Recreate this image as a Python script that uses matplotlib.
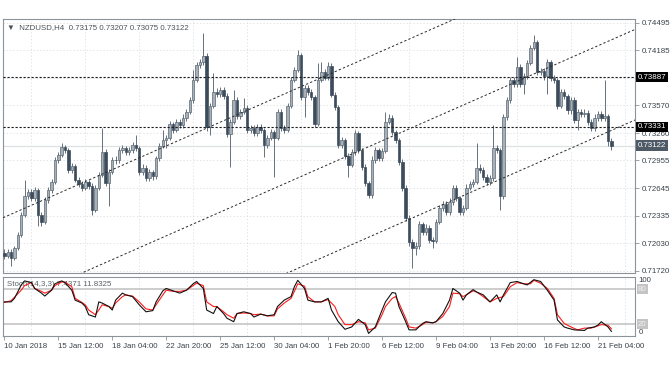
import numpy as np
import matplotlib
matplotlib.use('Agg')
import matplotlib.pyplot as plt
from matplotlib.transforms import blended_transform_factory

plt.rcParams['font.family'] = ['Liberation Sans', 'DejaVu Sans']

# NZDUSD H4, bar 0 = 10 Jan 20:00
opens = [0.71920,
 0.71887, 0.71932, 0.71865, 0.71976, 0.72122, 0.72345, 0.72558, 0.72602, 0.72535, 0.72625,
 0.72345, 0.72267, 0.72513, 0.72625, 0.72714, 0.72960, 0.73016, 0.73106, 0.73072, 0.72848,
 0.72893, 0.72737, 0.72692, 0.72647, 0.72714, 0.72670, 0.72401, 0.72647, 0.72793, 0.73050,
 0.72703, 0.72826, 0.72960, 0.72955, 0.73072, 0.73094, 0.73050, 0.73072, 0.73128, 0.73094,
 0.72826, 0.72871, 0.72759, 0.72826, 0.72781, 0.72983, 0.73117, 0.73184, 0.73206, 0.73363,
 0.73296, 0.73385, 0.73352, 0.73430, 0.73497, 0.73631, 0.73855, 0.74022, 0.74056, 0.74123,
 0.73329, 0.73564, 0.73720, 0.73698, 0.73743, 0.73676, 0.73251, 0.73385, 0.73631, 0.73452,
 0.73497, 0.73542, 0.73296, 0.73318, 0.73262, 0.73329, 0.73296, 0.73128, 0.73206, 0.73273,
 0.73206, 0.73497, 0.73318, 0.73296, 0.73564, 0.73855, 0.73966, 0.74134, 0.73665, 0.73765,
 0.73720, 0.73665, 0.73363, 0.73855, 0.73944, 0.73877, 0.74011, 0.73687, 0.73553, 0.73128,
 0.73184, 0.73005, 0.72904, 0.73050, 0.73262, 0.73072, 0.72882, 0.72703, 0.72569, 0.72960,
 0.73072, 0.72983, 0.73065, 0.73385, 0.73430, 0.73273, 0.73184, 0.72938, 0.72647, 0.72312,
 0.72043, 0.71976, 0.71999, 0.72245, 0.72155, 0.72200, 0.72066, 0.72055, 0.72267, 0.72424,
 0.72468, 0.72379, 0.72491, 0.72647, 0.72535, 0.72379, 0.72424, 0.72650, 0.72692, 0.72714,
 0.72871, 0.72848, 0.72770, 0.72714, 0.72759, 0.73094, 0.73072, 0.72558, 0.73441, 0.73631,
 0.73855, 0.73810, 0.74000, 0.73810, 0.73899, 0.74045, 0.74212, 0.74279, 0.73944, 0.73950,
 0.73899, 0.74056, 0.73877, 0.73855, 0.73564, 0.73720, 0.73676, 0.73519, 0.73631, 0.73407,
 0.73497, 0.73475, 0.73490, 0.73385, 0.73318, 0.73430, 0.73475, 0.73430, 0.73452, 0.73175]

closes = [
 0.71887, 0.71932, 0.71865, 0.71976, 0.72122, 0.72345, 0.72558, 0.72602, 0.72535, 0.72625,
 0.72345, 0.72267, 0.72513, 0.72625, 0.72714, 0.72960, 0.73016, 0.73106, 0.73072, 0.72848,
 0.72893, 0.72737, 0.72692, 0.72647, 0.72714, 0.72670, 0.72401, 0.72647, 0.72793, 0.73050,
 0.72703, 0.72826, 0.72960, 0.72955, 0.73072, 0.73094, 0.73050, 0.73072, 0.73128, 0.73094,
 0.72826, 0.72871, 0.72759, 0.72826, 0.72781, 0.72983, 0.73117, 0.73184, 0.73206, 0.73363,
 0.73296, 0.73385, 0.73352, 0.73430, 0.73497, 0.73631, 0.73855, 0.74022, 0.74056, 0.74123,
 0.73329, 0.73564, 0.73720, 0.73698, 0.73743, 0.73676, 0.73251, 0.73385, 0.73631, 0.73452,
 0.73497, 0.73542, 0.73296, 0.73318, 0.73262, 0.73329, 0.73296, 0.73128, 0.73206, 0.73273,
 0.73206, 0.73497, 0.73318, 0.73296, 0.73564, 0.73855, 0.73966, 0.74134, 0.73665, 0.73765,
 0.73720, 0.73665, 0.73363, 0.73855, 0.73944, 0.73877, 0.74011, 0.73687, 0.73553, 0.73128,
 0.73184, 0.73005, 0.72904, 0.73050, 0.73262, 0.73072, 0.72882, 0.72703, 0.72569, 0.72960,
 0.73072, 0.72983, 0.73065, 0.73385, 0.73430, 0.73273, 0.73184, 0.72938, 0.72647, 0.72312,
 0.72043, 0.71976, 0.71999, 0.72245, 0.72155, 0.72200, 0.72066, 0.72055, 0.72267, 0.72424,
 0.72468, 0.72379, 0.72491, 0.72647, 0.72535, 0.72379, 0.72424, 0.72650, 0.72692, 0.72714,
 0.72871, 0.72848, 0.72770, 0.72714, 0.72759, 0.73094, 0.73072, 0.72558, 0.73441, 0.73631,
 0.73855, 0.73810, 0.74000, 0.73810, 0.73899, 0.74045, 0.74212, 0.74279, 0.73944, 0.73950,
 0.73899, 0.74056, 0.73877, 0.73855, 0.73564, 0.73720, 0.73676, 0.73519, 0.73631, 0.73407,
 0.73497, 0.73475, 0.73490, 0.73385, 0.73318, 0.73430, 0.73475, 0.73430, 0.73452, 0.73175,
 0.73122]

highs = [
 0.71960, 0.71965, 0.71960, 0.72000, 0.72150, 0.72380, 0.72737, 0.72640, 0.72640, 0.72660,
 0.72650, 0.72380, 0.72550, 0.72660, 0.72750, 0.72990, 0.73050, 0.73150, 0.73130, 0.73100,
 0.72930, 0.72920, 0.72770, 0.72730, 0.72750, 0.72740, 0.72700, 0.72680, 0.72830, 0.73318,
 0.73080, 0.72860, 0.72990, 0.73000, 0.73110, 0.73130, 0.73120, 0.73110, 0.73160, 0.73240,
 0.73120, 0.72910, 0.72900, 0.72860, 0.72850, 0.73010, 0.73150, 0.73296, 0.73240, 0.73400,
 0.73390, 0.73420, 0.73420, 0.73470, 0.73530, 0.73670, 0.73966, 0.74060, 0.74090, 0.74380,
 0.74160, 0.73600, 0.73933, 0.73760, 0.73780, 0.73780, 0.73710, 0.73420, 0.73743, 0.73660,
 0.73530, 0.73653, 0.73570, 0.73350, 0.73350, 0.73360, 0.73360, 0.73320, 0.73240, 0.73310,
 0.73300, 0.73530, 0.73530, 0.73350, 0.73600, 0.73890, 0.74000, 0.74190, 0.74160, 0.73800,
 0.73800, 0.73750, 0.73690, 0.74045, 0.74056, 0.73980, 0.74056, 0.74040, 0.73720, 0.73580,
 0.73220, 0.73210, 0.73040, 0.73080, 0.73300, 0.73290, 0.73100, 0.72910, 0.72730, 0.73000,
 0.73110, 0.73100, 0.73100, 0.73497, 0.73470, 0.73460, 0.73300, 0.73210, 0.72970, 0.72680,
 0.72340, 0.72080, 0.72040, 0.72280, 0.72270, 0.72240, 0.72230, 0.72100, 0.72300, 0.72460,
 0.72500, 0.72500, 0.72530, 0.72680, 0.72680, 0.72560, 0.72460, 0.72690, 0.72730, 0.72750,
 0.73150, 0.72910, 0.72880, 0.72800, 0.72790, 0.73352, 0.73130, 0.73100, 0.73480, 0.73670,
 0.73890, 0.73890, 0.74112, 0.74030, 0.73930, 0.74080, 0.74250, 0.74358, 0.74300, 0.73990,
 0.73990, 0.74090, 0.74080, 0.73910, 0.73880, 0.73750, 0.73750, 0.73700, 0.73670, 0.73660,
 0.73530, 0.73530, 0.73530, 0.73520, 0.73420, 0.73470, 0.73510, 0.73510, 0.73855, 0.73480,
 0.73207]

lows = [
 0.71850, 0.71860, 0.71775, 0.71840, 0.71950, 0.72100, 0.72320, 0.72520, 0.72500, 0.72500,
 0.72222, 0.72220, 0.72240, 0.72480, 0.72590, 0.72690, 0.72930, 0.72990, 0.73040, 0.72820,
 0.72810, 0.72710, 0.72660, 0.72610, 0.72620, 0.72640, 0.72345, 0.72380, 0.72620, 0.72770,
 0.72670, 0.72446, 0.72800, 0.72920, 0.72930, 0.73040, 0.73020, 0.73020, 0.73040, 0.73060,
 0.72790, 0.72790, 0.72720, 0.72720, 0.72740, 0.72750, 0.72950, 0.73090, 0.73090, 0.73180,
 0.73260, 0.73270, 0.73320, 0.73320, 0.73400, 0.73470, 0.73600, 0.73830, 0.73990, 0.74020,
 0.73290, 0.73240, 0.73540, 0.73660, 0.73660, 0.73640, 0.73220, 0.72882, 0.73360, 0.73420,
 0.73420, 0.73470, 0.73260, 0.73260, 0.73230, 0.73230, 0.73260, 0.72994, 0.73100, 0.73180,
 0.72770, 0.73180, 0.73280, 0.73260, 0.73270, 0.73540, 0.73830, 0.73940, 0.73630, 0.73441,
 0.73690, 0.73630, 0.73330, 0.73340, 0.73830, 0.73850, 0.73850, 0.73660, 0.73520, 0.73100,
 0.73100, 0.72970, 0.72770, 0.72880, 0.73020, 0.73040, 0.72850, 0.72670, 0.72540, 0.72540,
 0.72930, 0.72950, 0.72950, 0.73040, 0.73360, 0.73240, 0.73150, 0.72900, 0.72610, 0.72280,
 0.72000, 0.71753, 0.71900, 0.71970, 0.72120, 0.72120, 0.72030, 0.71976, 0.72030, 0.72240,
 0.72390, 0.72340, 0.72350, 0.72460, 0.72500, 0.72340, 0.72340, 0.72400, 0.72620, 0.72660,
 0.72690, 0.72810, 0.72740, 0.72680, 0.72680, 0.72730, 0.73040, 0.72401, 0.72520, 0.73410,
 0.73600, 0.73780, 0.73780, 0.73780, 0.73700, 0.73870, 0.74020, 0.74190, 0.73910, 0.73910,
 0.73860, 0.73700, 0.73840, 0.73820, 0.73530, 0.73540, 0.73640, 0.73480, 0.73480, 0.73370,
 0.73300, 0.73440, 0.73440, 0.73350, 0.73280, 0.73290, 0.73400, 0.73400, 0.73400, 0.73120,
 0.73075]

# Stochastic(14,3,3), read at bar positions
k_bars = [0, 2, 3, 5, 6, 8, 9, 11, 12, 14, 15, 17, 18, 20, 21, 23, 24, 25, 27, 28,
          29, 31, 32, 33, 35, 36, 38, 40, 42, 44, 45, 47, 48, 50, 52, 54, 56, 57, 59, 60,
          62, 63, 65, 66, 68, 69, 71, 73, 74, 76, 78, 80, 81, 83, 85, 86, 87, 89, 90, 92,
          94, 96, 97, 99, 101, 103, 105, 107, 108, 110, 112, 113, 115, 116, 117, 119, 120, 122, 124, 125,
          127, 128, 130, 132, 133, 135, 136, 137, 139, 140, 142, 144, 146, 147, 148, 150, 152, 154, 155, 157,
          159, 161, 163, 164, 166, 167, 169, 172, 173, 175, 176, 177, 179, 180]
k_vals = [58, 58, 64, 87, 94, 91, 81, 73, 68, 78, 89, 94, 91, 78, 61, 56, 50, 36, 32, 58,
          56, 50, 44, 61, 73, 70, 67, 53, 41, 43, 58, 77, 81, 77, 73, 78, 89, 93, 81, 44,
          38, 50, 38, 30, 24, 38, 41, 38, 32, 37, 34, 36, 50, 61, 67, 84, 95, 81, 61, 58,
          58, 64, 44, 24, 11, 15, 28, 19, 4, 15, 44, 58, 74, 73, 50, 24, 10, 10, 21, 24,
          22, 24, 38, 61, 81, 73, 61, 70, 79, 75, 70, 58, 70, 58, 70, 91, 93, 89, 87, 96,
          93, 78, 61, 27, 15, 13, 10, 9, 13, 15, 18, 24, 15, 7.4371]
d_bars = [0, 2, 5, 6, 8, 9, 11, 12, 14, 15, 17, 18, 20, 21, 23, 24, 25, 27, 28, 29,
          31, 32, 33, 35, 36, 38, 40, 42, 44, 45, 47, 48, 50, 52, 54, 56, 57, 59, 60, 62,
          63, 65, 66, 68, 69, 71, 73, 74, 76, 78, 80, 81, 83, 85, 86, 87, 89, 90, 92, 94,
          96, 97, 98, 99, 101, 103, 105, 107, 108, 110, 112, 113, 115, 116, 117, 119, 120, 122, 124, 125,
          127, 128, 130, 132, 133, 135, 136, 137, 139, 140, 142, 144, 146, 148, 150, 152, 154, 156, 157, 159,
          161, 163, 164, 166, 168, 170, 172, 174, 175, 177, 179, 180]
d_vals = [57, 60, 78, 86, 91, 81, 76, 73, 78, 86, 92, 92, 84, 64, 57, 53, 44, 36, 44, 53,
          50, 47, 56, 67, 70, 68, 58, 46, 44, 53, 70, 78, 76, 76, 78, 86, 90, 86, 58, 50,
          50, 41, 36, 30, 38, 39, 38, 36, 37, 34, 34, 46, 56, 64, 76, 89, 85, 67, 58, 58,
          62, 56, 50, 36, 19, 19, 24, 22, 10, 13, 36, 50, 64, 67, 56, 30, 15, 13, 19, 23,
          22, 24, 33, 50, 73, 72, 67, 70, 77, 75, 67, 58, 64, 67, 84, 91, 89, 89, 95, 90,
          81, 64, 36, 21, 15, 10, 13, 13, 15, 19, 18, 11.8325]

date_bars = [0, 16, 32, 48, 64, 80, 96, 112, 128, 144, 160, 176]
date_labels = ['10 Jan 2018', '15 Jan 12:00', '18 Jan 04:00', '22 Jan 20:00', '25 Jan 12:00',
               '30 Jan 04:00', '1 Feb 20:00', '6 Feb 12:00', '9 Feb 04:00', '13 Feb 20:00',
               '16 Feb 12:00', '21 Feb 04:00']
grid_bars = [8, 24, 40, 56, 72, 88, 104, 120, 136, 152, 168, 184]
price_ticks = [0.74495, 0.74185, 0.73570, 0.73260, 0.72955, 0.72645, 0.72335, 0.72030, 0.71720]
grid_prices = [0.74495, 0.74185, 0.73875, 0.73570, 0.73260, 0.72955, 0.72645, 0.72335, 0.72030, 0.71720]
level_prices = [0.73887, 0.73331]
last_price = 0.73122
# trend channel lines (bar, price)
channel_lines = [([-5, 140], [0.72238, 0.74644]),
                 ([15, 188], [0.71564, 0.74437]),
                 ([75, 188], [0.71549, 0.73424])]
stoch_levels = [80, 20]

txt = '#3a424a'
frame = '#8c939a'
gridc = '#d9dde0'

fig = plt.figure(figsize=(6.72, 3.72), dpi=100)
ax = fig.add_axes([0.00446, 0.2648, 0.9405, 0.6841])
ax2 = fig.add_axes([0.00446, 0.0968, 0.9405, 0.1599])

x = np.arange(len(closes))
o = np.array(opens)
c = np.array(closes)
h = np.array(highs)
l = np.array(lows)
up = c >= o

for b in grid_bars:
    ax.axvline(b, color=gridc, lw=0.6, ls=(0, (1.5, 2.5)), zorder=0)
    ax2.axvline(b, color=gridc, lw=0.6, ls=(0, (1.5, 2.5)), zorder=0)
for p in grid_prices:
    ax.axhline(p, color=gridc, lw=0.6, ls=(0, (1.5, 2.5)), zorder=0)
ax.axhline(last_price, color='#dde1e4', lw=0.9, zorder=0.5)

ax.vlines(x, l, h, color='#66717c', lw=0.7, zorder=2)
bot = np.minimum(o, c)
hgt = np.maximum(np.abs(c - o), 0.00003)
ax.bar(x[up], hgt[up], bottom=bot[up], width=0.72, color='#a8b1ba',
       edgecolor='#5b6772', linewidth=0.5, zorder=3)
ax.bar(x[~up], hgt[~up], bottom=bot[~up], width=0.72, color='#3c4c5d',
       edgecolor='#3c4c5d', linewidth=0.5, zorder=3)

for p in level_prices:
    ax.axhline(p, color='#1a1a1a', lw=0.8, ls=(0, (2, 1.6)), zorder=4)
for bx, py in channel_lines:
    ax.plot(bx, py, color='#2a2a2a', lw=0.7, ls=(0, (2.4, 2.2)), zorder=4)

ax.set_xlim(-0.4, 187)
ax.set_ylim(0.71691, 0.74537)
ax.set_xticks([])
ax.yaxis.tick_right()
ax.set_yticks(price_ticks)
ax.set_yticklabels(['%.5f' % p for p in price_ticks])
ax.tick_params(axis='y', length=3, width=0.6, color=frame, pad=2,
               labelsize=5.7, labelcolor=txt)
for s in ax.spines.values():
    s.set_color(frame)
    s.set_linewidth(0.8)

yb = blended_transform_factory(ax.transAxes, ax.transData)
for p in level_prices:
    ax.text(1.0045, p, '%.5f' % p, transform=yb, ha='left', va='center',
            fontsize=5.7, color='white', clip_on=False, zorder=10,
            bbox=dict(boxstyle='square,pad=0.22', fc='black', ec='none'))
ax.text(1.0045, last_price, '%.5f' % last_price, transform=yb, ha='left', va='center',
        fontsize=5.7, color='white', clip_on=False, zorder=10,
        bbox=dict(boxstyle='square,pad=0.22', fc='#4e5a66', ec='none'))

ax.text(0.006, 0.968, '\u25bc  NZDUSD,H4  %.5f %.5f %.5f %.5f' % (o[-1], h[-1], l[-1], c[-1]),
        transform=ax.transAxes, ha='left', va='center', fontsize=5.7, color='#4a525a')

# stochastic panel
for v in stoch_levels:
    ax2.axhline(v, color='#c9c9c9', lw=1.3, zorder=1)
ax2.plot(d_bars, d_vals, color='#ff1a1a', lw=0.8, zorder=3)
ax2.plot(k_bars, k_vals, color='#111111', lw=0.8, zorder=4)
ax2.text(0.006, 0.86, 'Stoch(14,3,3) %.4f %.4f' % (k_vals[-1], d_vals[-1]),
         transform=ax2.transAxes, ha='left', va='center', fontsize=5.7, color='#5a6168', zorder=2)
ax2.set_xlim(-0.4, 187)
ax2.set_ylim(-0.5, 101.5)
ax2.set_yticks([])
yb2 = blended_transform_factory(ax2.transAxes, ax2.transData)
ax2.text(1.006, 100, '100', transform=yb2, ha='left', va='top', fontsize=5.7, color=txt, clip_on=False)
ax2.text(1.006, 0, '0', transform=yb2, ha='left', va='bottom', fontsize=5.7, color=txt, clip_on=False)
for v in stoch_levels:
    ax2.text(1.0045, v, str(v), transform=yb2, ha='left', va='center', fontsize=5.7,
             color='#f2f2f2', clip_on=False, zorder=10,
             bbox=dict(boxstyle='square,pad=0.15', fc='#c4c4c4', ec='none'))
ax2.set_xticks(date_bars)
ax2.set_xticklabels(date_labels, ha='left')
ax2.tick_params(axis='x', length=3, width=0.6, color=frame, pad=2,
                labelsize=5.7, labelcolor=txt)
for s in ax2.spines.values():
    s.set_color(frame)
    s.set_linewidth(0.8)

fig.savefig('out.png', dpi=100, facecolor='white')
